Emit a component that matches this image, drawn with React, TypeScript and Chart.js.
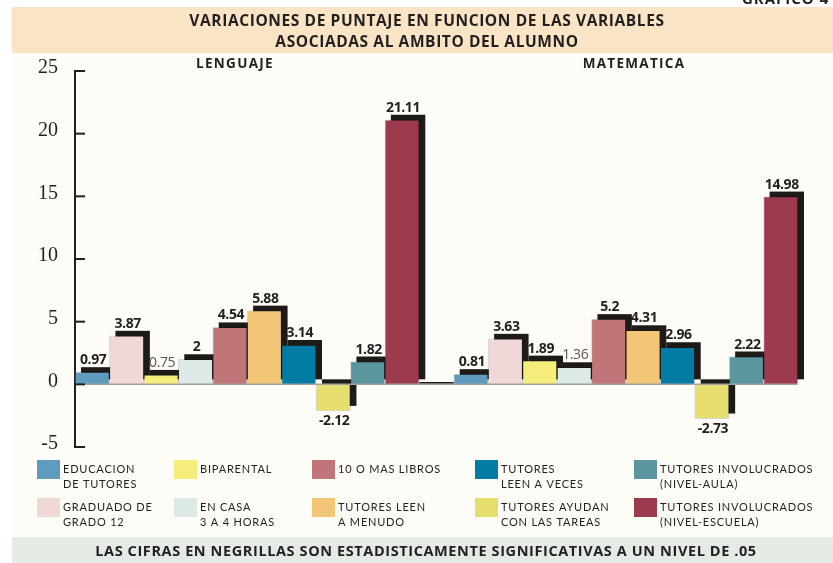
import React, { useEffect, useRef } from "react";
import { Chart, registerables } from "chart.js";

Chart.register(...registerables);

// ---------- DATA ----------
const categories: string[][] = [
  ["EDUCACION", "DE TUTORES"],
  ["GRADUADO DE", "GRADO 12"],
  ["BIPARENTAL"],
  ["EN CASA", "3 A 4 HORAS"],
  ["10 O MAS LIBROS"],
  ["TUTORES LEEN", "A MENUDO"],
  ["TUTORES", "LEEN A VECES"],
  ["TUTORES AYUDAN", "CON LAS TAREAS"],
  ["TUTORES INVOLUCRADOS", "(NIVEL-AULA)"],
  ["TUTORES INVOLUCRADOS", "(NIVEL-ESCUELA)"],
];
const groups = ["LENGUAJE", "MATEMATICA"];
const lenguaje = [0.97, 3.87, 0.75, 2, 4.54, 5.88, 3.14, -2.12, 1.82, 21.11];
const matematica = [0.81, 3.63, 1.89, 1.36, 5.2, 4.31, 2.96, -2.73, 2.22, 14.98];
const lenguajeSignificant = [true, true, false, true, true, true, true, true, true, true];
const matematicaSignificant = [true, true, true, false, true, true, true, true, true, true];
const colors = [
  "#5f9bbf",
  "#efd8d5",
  "#f6ee7b",
  "#dce9e5",
  "#c07578",
  "#f3c677",
  "#007ca5",
  "#e6de6f",
  "#5b969f",
  "#9c3a4e",
];
const yMin = -5;
const yMax = 25;
const yStep = 5;
const titleLines = [
  "VARIACIONES DE PUNTAJE EN FUNCION DE LAS VARIABLES",
  "ASOCIADAS AL AMBITO DEL ALUMNO",
];
const footerText =
  "LAS CIFRAS EN NEGRILLAS SON ESTADISTICAMENTE SIGNIFICATIVAS A UN NIVEL DE .05";
const cornerText = "GRAFICO 4";

// ---------- STYLE ----------
const INK = "#231f20";
const CREAM = "#fdfcf7";
const TITLE_BAND = "#f9e5c6";
const FOOTER_BAND = "#e4ebe4";
const HEAD_FONT = "'Open Sans'";

export default function App() {
  const canvasRef = useRef<HTMLCanvasElement | null>(null);

  useEffect(() => {
    const canvas = canvasRef.current;
    if (!canvas) return;

    const labels: string[] = [
      ...categories.map((c) => c.join(" ")),
      "",
      ...categories.map((c) => c.join(" ")),
    ];
    const values: (number | null)[] = [...lenguaje, null, ...matematica];
    const significant: boolean[] = [...lenguajeSignificant, false, ...matematicaSignificant];
    const barColors = [...colors, "rgba(0,0,0,0)", ...colors];

    const SHADOW_DX = 6;
    const SHADOW_DY = -5;

    const backgroundPlugin = {
      id: "bgPanels",
      beforeDraw(chart: any) {
        const { ctx, width, height } = chart;
        ctx.save();
        ctx.fillStyle = "#ffffff";
        ctx.fillRect(0, 0, width, height);
        ctx.fillStyle = CREAM;
        ctx.fillRect(12, 53, width - 12, 484);
        ctx.fillStyle = TITLE_BAND;
        ctx.fillRect(12, 7, width - 12, 46);
        ctx.fillStyle = FOOTER_BAND;
        ctx.fillRect(12, 537, width - 12, height - 537);
        ctx.restore();
      },
    };

    const shadowPlugin = {
      id: "barShadows",
      beforeDatasetsDraw(chart: any) {
        const { ctx } = chart;
        const meta = chart.getDatasetMeta(0);
        ctx.save();
        ctx.fillStyle = "#1d1a18";
        meta.data.forEach((el: any, i: number) => {
          if (values[i] === null) return;
          const { x, y, base, width } = el.getProps(["x", "y", "base", "width"], true);
          const top = Math.min(y, base);
          const bottom = Math.max(y, base);
          ctx.fillRect(x - width / 2 + SHADOW_DX, top + SHADOW_DY, width, bottom - top);
        });
        ctx.restore();
      },
    };

    const overlayPlugin = {
      id: "overlay",
      afterDatasetsDraw(chart: any) {
        const { ctx, chartArea } = chart;
        const yScale = chart.scales.y;
        const xScale = chart.scales.x;
        const meta = chart.getDatasetMeta(0);
        const y0 = yScale.getPixelForValue(0);
        const half = xScale.width / values.length / 2;
        ctx.save();

        // zero line
        ctx.strokeStyle = "#a3a3a3";
        ctx.lineWidth = 1.5;
        ctx.beginPath();
        ctx.moveTo(chartArea.left, y0);
        ctx.lineTo(xScale.getPixelForValue(values.length - 1) + half, y0);
        ctx.stroke();

        // dark base segment in the gap between the two groups
        const gapIndex = lenguaje.length;
        const gx = xScale.getPixelForValue(gapIndex);
        ctx.strokeStyle = "#1d1a18";
        ctx.lineWidth = 1.5;
        ctx.beginPath();
        ctx.moveTo(gx - half, y0 - 1.5);
        ctx.lineTo(gx + half, y0 - 1.5);
        ctx.stroke();

        // inward tick marks on the y axis
        ctx.strokeStyle = INK;
        ctx.lineWidth = 2;
        yScale.ticks.forEach((t: any) => {
          const py = yScale.getPixelForValue(t.value);
          ctx.beginPath();
          ctx.moveTo(chartArea.left - 1, py);
          ctx.lineTo(chartArea.left + 10, py);
          ctx.stroke();
        });

        // value labels
        ctx.textAlign = "center";
        ctx.textBaseline = "alphabetic";
        (ctx as any).letterSpacing = "-0.4px";
        meta.data.forEach((el: any, i: number) => {
          const v = values[i];
          if (v === null) return;
          const { x, y, base } = el.getProps(["x", "y", "base"], true);
          const top = Math.min(y, base);
          const bottom = Math.max(y, base);
          if (significant[i]) {
            ctx.font = `bold 14px ${HEAD_FONT}`;
            ctx.fillStyle = INK;
          } else {
            ctx.font = `14px ${HEAD_FONT}`;
            ctx.fillStyle = "#5a5654";
          }
          const txt = String(v);
          if (v >= 0) {
            ctx.fillText(txt, x + 1, top + SHADOW_DY - 3);
          } else {
            ctx.fillText(txt, x + 1, bottom + 14);
          }
        });
        ctx.restore();
      },
    };

    const textPlugin = {
      id: "texts",
      afterDraw(chart: any) {
        const { ctx } = chart;
        ctx.save();
        ctx.fillStyle = INK;

        // corner label (cut at top)
        ctx.textAlign = "left";
        ctx.textBaseline = "alphabetic";
        ctx.font = `bold 15px ${HEAD_FONT}`;
        (ctx as any).letterSpacing = "1px";
        ctx.fillText(cornerText, 742, 4);

        // title
        ctx.textAlign = "center";
        ctx.textBaseline = "middle";
        ctx.font = `bold 15.5px ${HEAD_FONT}`;
        (ctx as any).letterSpacing = "0.6px";
        ctx.fillText(titleLines[0], 427, 22, 482);
        ctx.fillText(titleLines[1], 427, 43, 306);

        // group subtitles
        ctx.font = `bold 13.5px ${HEAD_FONT}`;
        (ctx as any).letterSpacing = "1.3px";
        ctx.fillText(groups[0], 235, 64, 84);
        ctx.fillText(groups[1], 634, 64, 108);

        // legend
        const colX = [37, 174, 312, 475, 634];
        ctx.textAlign = "left";
        ctx.font = "11px Lato";
        (ctx as any).letterSpacing = "0.8px";
        categories.forEach((lines, i) => {
          const col = Math.floor(i / 2);
          const row = i % 2;
          const sx = colX[col];
          const sy = 460 + row * 38;
          ctx.fillStyle = colors[i];
          ctx.fillRect(sx, sy, 23, 19);
          ctx.fillStyle = INK;
          lines.forEach((ln, k) => {
            ctx.fillText(ln, sx + 26, sy + 9.5 + k * 15);
          });
        });

        // footer
        ctx.textAlign = "center";
        ctx.font = `bold 14.5px ${HEAD_FONT}`;
        (ctx as any).letterSpacing = "0.6px";
        ctx.fillStyle = INK;
        ctx.fillText(footerText, 426, 552, 662);
        ctx.restore();
      },
    };

    const chart = new Chart(canvas, {
      type: "bar",
      data: {
        labels,
        datasets: [
          {
            data: values as any,
            backgroundColor: barColors,
            borderColor: "rgba(0,0,0,0.15)",
            borderWidth: 1,
            categoryPercentage: 1,
            barPercentage: 1,
          },
        ],
      },
      options: {
        responsive: false,
        animation: false,
        layout: { padding: { left: 8, right: 35, top: 71, bottom: 116 } },
        plugins: {
          legend: { display: false },
          tooltip: { enabled: false },
          title: { display: false },
        },
        scales: {
          x: { type: "category", display: false, offset: true },
          y: {
            min: yMin,
            max: yMax,
            afterFit: (scale: any) => {
              scale.width = 67;
            },
            ticks: {
              stepSize: yStep,
              color: INK,
              padding: 17,
              labelOffset: -3,
              font: { family: "'Liberation Serif', 'DejaVu Serif', serif", size: 20 },
            },
            grid: { display: false, drawTicks: false },
            border: { display: true, color: INK, width: 2 },
          },
        },
      },
      plugins: [backgroundPlugin, shadowPlugin, overlayPlugin, textPlugin],
    });

    return () => chart.destroy();
  }, []);

  return (
    <div style={{ position: "absolute", left: 0, top: 0, width: 833, height: 563 }}>
      <canvas ref={canvasRef} width={833} height={563} style={{ display: "block" }} />
    </div>
  );
}
